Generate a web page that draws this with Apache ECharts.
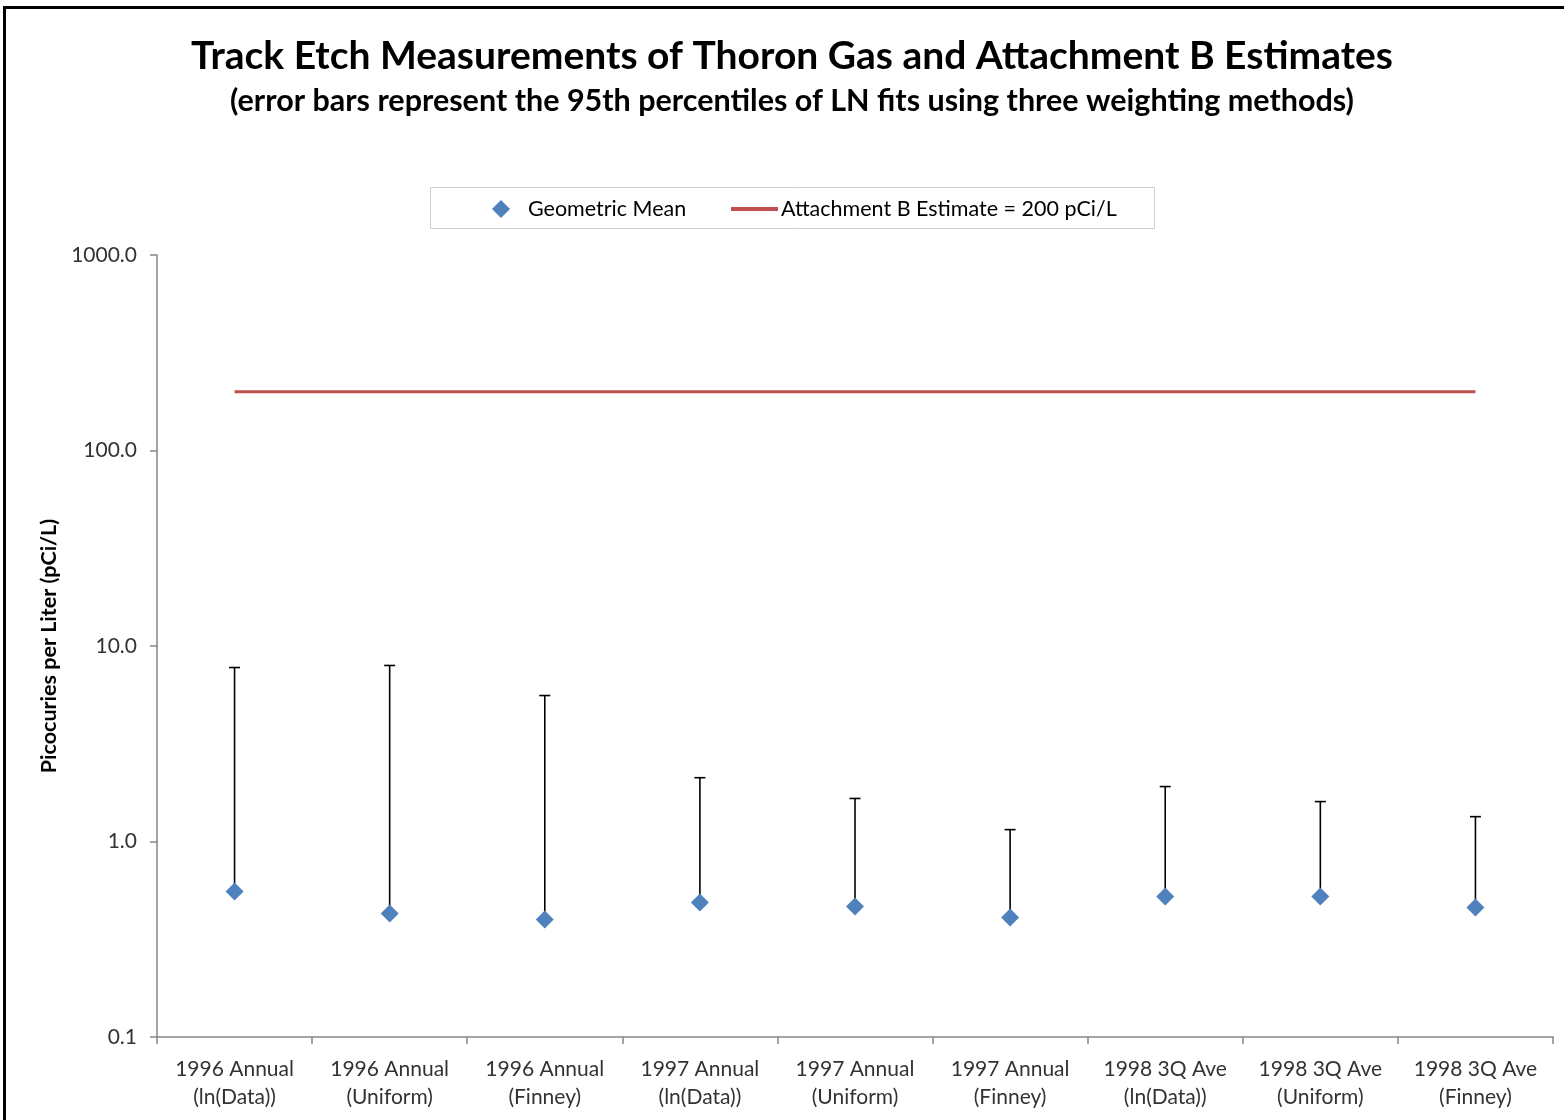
<!DOCTYPE html>
<html>
<head>
<meta charset="utf-8">
<script src="https://cdn.jsdelivr.net/npm/echarts@6/dist/echarts.min.js"></script>
<style>
html,body{margin:0;padding:0;background:#fff;}
#chart{width:1564px;height:1120px;}
</style>
</head>
<body>
<div id="chart"></div>
<script>
const categories = [
  '1996 Annual\n(ln(Data))', '1996 Annual\n(Uniform)', '1996 Annual\n(Finney)',
  '1997 Annual\n(ln(Data))', '1997 Annual\n(Uniform)', '1997 Annual\n(Finney)',
  '1998 3Q Ave\n(ln(Data))', '1998 3Q Ave\n(Uniform)', '1998 3Q Ave\n(Finney)'
];
const geometricMean = [0.555, 0.428, 0.399, 0.488, 0.465, 0.408, 0.523, 0.523, 0.459];
const upper95 = [7.76, 7.95, 5.58, 2.12, 1.66, 1.15, 1.91, 1.60, 1.34];
const attachmentB = [200, 200, 200, 200, 200, 200, 200, 200, 200];

const FONT = 'Lato';
const chart = echarts.init(document.getElementById('chart'), null, {renderer: 'canvas'});

const errorData = categories.map((c, i) => [i, geometricMean[i], upper95[i]]);

chart.setOption({
  backgroundColor: '#fff',
  animation: false,
  textStyle: {fontFamily: FONT},
  title: [
    {
      text: 'Track Etch Measurements of Thoron Gas and Attachment B Estimates',
      left: 787, top: 32, textAlign: 'center',
      textStyle: {fontFamily: FONT, fontWeight: 'bold', fontSize: 39, color: '#000'}
    },
    {
      text: '(error bars represent the 95th percentiles of LN fits using three weighting methods)',
      left: 787, top: 81, textAlign: 'center',
      textStyle: {fontFamily: FONT, fontWeight: 'bold', fontSize: 30.5, color: '#000'}
    }
  ],
  legend: [
    {
      left: 492, top: 198, padding: 0,
      itemWidth: 18, itemHeight: 18,
      itemStyle: {opacity: 1},
      textStyle: {fontFamily: FONT, fontSize: 21.5, color: '#000', padding: [0, 0, 0, 13]},
      data: [{name: 'Geometric Mean', icon: 'diamond'}]
    },
    {
      left: 731, top: 198, padding: 0,
      itemWidth: 47, itemHeight: 4,
      textStyle: {fontFamily: FONT, fontSize: 21.5, color: '#000', padding: [0, 0, 0, -2]},
      data: [{name: 'Attachment B Estimate = 200 pCi/L', icon: 'rect'}]
    }
  ],
  graphic: [
    {type: 'polyline', silent: true, shape: {points: [[4.5, 1120], [4.5, 7.5], [1564, 7.5]]},
     style: {stroke: '#000', lineWidth: 3, fill: null}},
    {type: 'rect', silent: true, shape: {x: 430.5, y: 187.5, width: 724, height: 41},
     style: {stroke: '#d0d0d0', lineWidth: 1, fill: null}}
  ],
  grid: {left: 157, right: 11, top: 255, bottom: 83},
  xAxis: {
    type: 'category',
    data: categories,
    boundaryGap: true,
    axisLine: {lineStyle: {color: '#868686', width: 1.5}},
    axisTick: {show: true, interval: 0, length: 7, lineStyle: {color: '#868686', width: 1.5}},
    axisLabel: {interval: 0, margin: 18, fontFamily: FONT, fontSize: 21, color: '#333', lineHeight: 28},
    splitLine: {show: false}
  },
  yAxis: {
    type: 'log', logBase: 10, min: 0.1, max: 1000,
    name: 'Picocuries per Liter (pCi/L)',
    nameLocation: 'middle', nameGap: 96, nameRotate: 90,
    nameTextStyle: {fontFamily: FONT, fontWeight: 'bold', fontSize: 21.5, color: '#000'},
    axisLine: {show: true, lineStyle: {color: '#868686', width: 1.5}},
    axisTick: {show: true, length: 7, inside: false, lineStyle: {color: '#868686', width: 1.5}},
    axisLabel: {margin: 20, fontFamily: FONT, fontSize: 21, color: '#333',
      formatter: v => Number(v).toFixed(1)},
    splitLine: {show: false},
    minorTick: {show: false}
  },
  series: [
    {
      name: 'Error bars',
      type: 'custom',
      silent: true,
      data: errorData,
      encode: {x: 0, y: [1, 2]},
      renderItem: function (params, api) {
        const x = api.value(0);
        const lo = api.coord([x, api.value(1)]);
        const hi = api.coord([x, api.value(2)]);
        const cap = 5.5;
        const style = {stroke: '#000', lineWidth: 1.6, fill: null};
        return {
          type: 'group',
          children: [
            {type: 'line', shape: {x1: lo[0], y1: lo[1], x2: hi[0], y2: hi[1]}, style: style},
            {type: 'line', shape: {x1: hi[0] - cap, y1: hi[1], x2: hi[0] + cap, y2: hi[1]}, style: style}
          ]
        };
      },
      z: 1
    },
    {
      name: 'Geometric Mean',
      type: 'scatter',
      symbol: 'diamond',
      symbolSize: 18,
      itemStyle: {color: '#4F81BD', opacity: 1},
      data: geometricMean,
      z: 3
    },
    {
      name: 'Attachment B Estimate = 200 pCi/L',
      type: 'line',
      symbol: 'none',
      showSymbol: false,
      lineStyle: {color: '#C0504D', width: 3},
      itemStyle: {color: '#C0504D'},
      data: attachmentB,
      z: 2
    }
  ]
});
</script>
</body>
</html>
